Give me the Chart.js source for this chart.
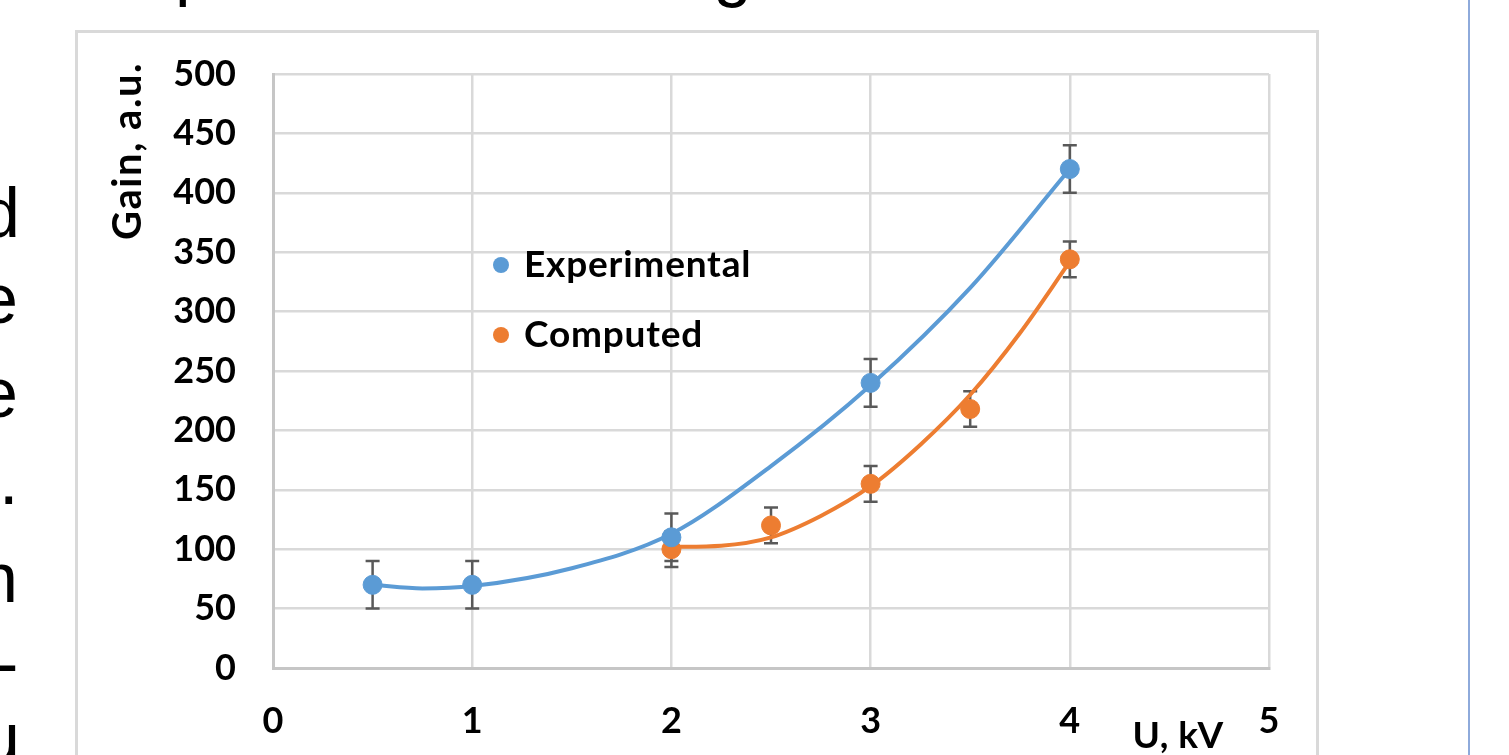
<!DOCTYPE html>
<html>
<head>
<meta charset="utf-8">
<script src="https://cdn.jsdelivr.net/npm/chart.js@4.4.1/dist/chart.umd.min.js"></script>
<style>
  html, body { margin: 0; padding: 0; background: #fff; }
  body { width: 1509px; height: 755px; overflow: hidden; position: relative; }
  .frame { position: absolute; left: 75px; top: 30px; width: 1244px; height: 800px;
           border: 3px solid #d9d9d9; box-sizing: border-box; }
  .rule { position: absolute; left: 1468px; top: 0; width: 2px; height: 755px; background: #8eaadb; }
  .slide { position: absolute; font-family: "Liberation Sans", Arial, sans-serif; font-size: 70px;
           line-height: 70px; color: #000; white-space: pre; }
  #chart { position: absolute; left: 0; top: 0; }
</style>
</head>
<body>
<div class="frame"></div>
<div class="rule"></div>
<span class="slide" style="left:175px; top:-67px">p</span>
<span class="slide" style="left:713px; top:-66px">g</span>
<span class="slide" style="left:-19px; top:178px">d</span>
<span class="slide" style="left:-21px; top:264px">e</span>
<span class="slide" style="left:-21px; top:358px">e</span>
<span class="slide" style="left:-1px; top:445px">.</span>
<span class="slide" style="left:-21px; top:543px">n</span>
<span class="slide" style="left:-5px; top:628px">-</span>
<span class="slide" style="left:-19px; top:703px">u</span>
<canvas id="chart" width="1509" height="755"></canvas>
<script>
// Measured gain versus applied voltage
const voltageExp = [0.5, 1, 2, 3, 4];
const gainExp    = [70, 70, 110, 240, 420];
const errExp     = [20, 20, 20, 20, 20];

const voltageComp = [2, 2.5, 3, 3.5, 4];
const gainComp    = [100, 120, 155, 218, 344];
const errComp     = [15, 15, 15, 15, 15];

// Polynomial trend curves
const trendExpU    = [0.5, 0.75, 1, 1.5, 2, 2.5, 3, 3.5, 4];
const trendExpGain = [70, 67, 69, 84, 113, 170, 238, 320, 420];
const trendCompU    = [2, 2.25, 2.5, 2.75, 3, 3.25, 3.5, 3.75, 4];
const trendCompGain = [102, 103, 110, 128, 153, 188, 230, 282, 342];

const seriesNames = ['Experimental', 'Computed'];
const xTitle = 'U, kV';
const yTitle = 'Gain, a.u.';
const xRange = [0, 5];
const yRange = [0, 500];

const BLUE = '#5b9bd5';
const ORANGE = '#ed7d31';
const FONT = 'Lato';
const INK = '#000';

const toXY = (xs, ys) => xs.map((x, i) => ({ x: x, y: ys[i] }));

const errorBars = {
  id: 'errorBars',
  beforeDatasetsDraw(chart) {
    const { ctx, scales: { x, y } } = chart;
    const sets = [[voltageExp, gainExp, errExp], [voltageComp, gainComp, errComp]];
    ctx.save();
    ctx.strokeStyle = '#595959';
    ctx.lineWidth = 2.5;
    sets.forEach(([xs, ys, es]) => {
      xs.forEach((v, i) => {
        const px = x.getPixelForValue(v);
        const top = y.getPixelForValue(ys[i] + es[i]);
        const bot = y.getPixelForValue(ys[i] - es[i]);
        ctx.beginPath();
        ctx.moveTo(px, top); ctx.lineTo(px, bot);
        ctx.moveTo(px - 7, top); ctx.lineTo(px + 7, top);
        ctx.moveTo(px - 7, bot); ctx.lineTo(px + 7, bot);
        ctx.stroke();
      });
    });
    ctx.restore();
  }
};

const annotations = {
  id: 'annotations',
  afterDraw(chart) {
    const { ctx } = chart;
    ctx.save();
    ctx.fillStyle = INK;
    // vertical axis title
    ctx.font = 'bold 40px ' + FONT;
    ctx.letterSpacing = '1.5px';
    ctx.save();
    ctx.translate(128, 151);
    ctx.rotate(-Math.PI / 2);
    ctx.textAlign = 'center';
    ctx.textBaseline = 'middle';
    ctx.fillText(yTitle, 0, 0);
    ctx.restore();
    // horizontal axis title
    ctx.font = 'bold 37px ' + FONT;
    ctx.letterSpacing = '0.5px';
    ctx.textAlign = 'center';
    ctx.textBaseline = 'middle';
    ctx.fillText(xTitle, 1178, 736);
    // legend
    ctx.letterSpacing = '0.8px';
    const colors = [BLUE, ORANGE];
    const rows = [265, 335];
    seriesNames.forEach((name, i) => {
      ctx.fillStyle = colors[i];
      ctx.beginPath();
      ctx.arc(501, rows[i], 8, 0, Math.PI * 2);
      ctx.fill();
      ctx.fillStyle = INK;
      ctx.textAlign = 'left';
      ctx.fillText(name, 524, rows[i]);
    });
    ctx.restore();
  }
};

new Chart(document.getElementById('chart'), {
  type: 'scatter',
  data: {
    datasets: [
      { label: seriesNames[0], data: toXY(voltageExp, gainExp), backgroundColor: BLUE, borderColor: BLUE,
        pointRadius: 9.5, pointHoverRadius: 9.5, showLine: false },
      { label: seriesNames[1], data: toXY(voltageComp, gainComp), backgroundColor: ORANGE, borderColor: ORANGE,
        pointRadius: 9.5, pointHoverRadius: 9.5, showLine: false },
      { label: 'trend-exp', data: toXY(trendExpU, trendExpGain), borderColor: BLUE, borderWidth: 4,
        pointRadius: 0, showLine: true, cubicInterpolationMode: 'monotone' },
      { label: 'trend-comp', data: toXY(trendCompU, trendCompGain), borderColor: ORANGE, borderWidth: 4,
        pointRadius: 0, showLine: true, cubicInterpolationMode: 'monotone' }
    ]
  },
  options: {
    responsive: false,
    animation: false,
    devicePixelRatio: 1,
    layout: { padding: { left: 0, top: 74, right: 240, bottom: 0 } },
    plugins: { legend: { display: false }, tooltip: { enabled: false } },
    scales: {
      x: {
        type: 'linear', min: xRange[0], max: xRange[1],
        ticks: { stepSize: 1, padding: 32, color: INK, font: { family: FONT, size: 36, weight: 'bold' } },
        grid: { color: '#d9d9d9', lineWidth: 2.5, drawTicks: false },
        border: { color: '#c6c6c6', width: 3 },
        afterFit(s) { s.height = 87; }
      },
      y: {
        min: yRange[0], max: yRange[1],
        ticks: { stepSize: 50, padding: 37, color: INK, font: { family: FONT, size: 36, weight: 'bold' } },
        grid: { color: '#d9d9d9', lineWidth: 2.5, drawTicks: false },
        border: { color: '#c6c6c6', width: 3 },
        afterFit(s) { s.width = 273; }
      }
    }
  },
  plugins: [errorBars, annotations]
});
</script>
</body>
</html>
